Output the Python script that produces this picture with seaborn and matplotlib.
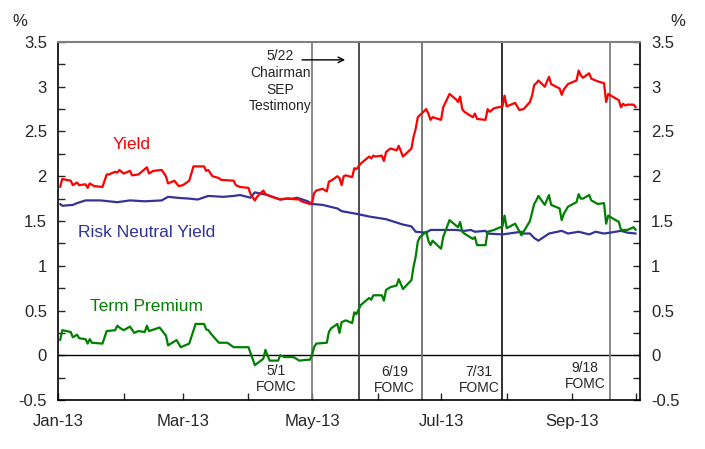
import pandas as pd
import numpy as np
import matplotlib
matplotlib.use('Agg')
import matplotlib.pyplot as plt
import matplotlib.dates as mdates
from matplotlib.ticker import MultipleLocator, FuncFormatter
import seaborn as sns

sns.set_style('ticks')
plt.rcParams['font.family'] = ['Liberation Sans', 'DejaVu Sans']

# 10-year yield decomposition, 2013
yield_dates = ['2013-01-02', '2013-01-03', '2013-01-07', '2013-01-08', '2013-01-10', '2013-01-11',
               '2013-01-14', '2013-01-15', '2013-01-16', '2013-01-18', '2013-01-22', '2013-01-24',
               '2013-01-25', '2013-01-28', '2013-01-29', '2013-01-30', '2013-02-01', '2013-02-04',
               '2013-02-05', '2013-02-08', '2013-02-12', '2013-02-13', '2013-02-15', '2013-02-19',
               '2013-02-21', '2013-02-22', '2013-02-25', '2013-02-27', '2013-03-01', '2013-03-04',
               '2013-03-06', '2013-03-11', '2013-03-12', '2013-03-13', '2013-03-15', '2013-03-18',
               '2013-03-19', '2013-03-25', '2013-03-26', '2013-03-28', '2013-04-01', '2013-04-02',
               '2013-04-04', '2013-04-05', '2013-04-08', '2013-04-09', '2013-04-12', '2013-04-16',
               '2013-04-19', '2013-04-25', '2013-04-26', '2013-04-30', '2013-05-01', '2013-05-02',
               '2013-05-03', '2013-05-06', '2013-05-08', '2013-05-09', '2013-05-10', '2013-05-13',
               '2013-05-14', '2013-05-15', '2013-05-16', '2013-05-17', '2013-05-20', '2013-05-21',
               '2013-05-22', '2013-05-24', '2013-05-28', '2013-05-29', '2013-05-30', '2013-05-31',
               '2013-06-03', '2013-06-04', '2013-06-05', '2013-06-07', '2013-06-10', '2013-06-11',
               '2013-06-13', '2013-06-17', '2013-06-18', '2013-06-19', '2013-06-20', '2013-06-24',
               '2013-06-25', '2013-06-26', '2013-06-27', '2013-07-01', '2013-07-02', '2013-07-05',
               '2013-07-08', '2013-07-09', '2013-07-10', '2013-07-11', '2013-07-12', '2013-07-16',
               '2013-07-17', '2013-07-18', '2013-07-22', '2013-07-23', '2013-07-24', '2013-07-26',
               '2013-07-30', '2013-07-31', '2013-08-01', '2013-08-05', '2013-08-07', '2013-08-09',
               '2013-08-12', '2013-08-13', '2013-08-14', '2013-08-15', '2013-08-16', '2013-08-19',
               '2013-08-21', '2013-08-22', '2013-08-26', '2013-08-27', '2013-08-28', '2013-08-30',
               '2013-09-03', '2013-09-04', '2013-09-05', '2013-09-06', '2013-09-09', '2013-09-10',
               '2013-09-13', '2013-09-16', '2013-09-17', '2013-09-18', '2013-09-20', '2013-09-23',
               '2013-09-24', '2013-09-25', '2013-09-26', '2013-09-27', '2013-09-30', '2013-10-01']
yield_vals = [1.88, 1.97, 1.95, 1.90, 1.93, 1.90,
              1.91, 1.87, 1.92, 1.89, 1.88, 2.02,
              2.02, 2.05, 2.04, 2.07, 2.03, 2.06,
              2.01, 2.02, 2.10, 2.03, 2.06, 2.07,
              2.00, 1.92, 1.95, 1.89, 1.90, 1.95,
              2.11, 2.11, 2.06, 2.07, 2.00, 1.98,
              1.96, 1.95, 1.90, 1.88, 1.87, 1.80,
              1.73, 1.77, 1.84, 1.80, 1.77, 1.74,
              1.75, 1.74, 1.72, 1.69, 1.70, 1.81,
              1.84, 1.86, 1.83, 1.94, 1.95, 2.00,
              1.98, 1.90, 2.00, 2.01, 1.99, 2.09,
              2.08, 2.14, 2.22, 2.20, 2.23, 2.22,
              2.23, 2.17, 2.27, 2.31, 2.29, 2.34,
              2.22, 2.31, 2.44, 2.53, 2.66, 2.75,
              2.70, 2.63, 2.66, 2.63, 2.77, 2.92,
              2.86, 2.83, 2.89, 2.75, 2.72, 2.66,
              2.70, 2.64, 2.63, 2.75, 2.72, 2.76,
              2.78, 2.90, 2.78, 2.82, 2.74, 2.75,
              2.83, 2.90, 3.02, 3.04, 3.07, 3.00,
              3.11, 3.03, 2.98, 2.91, 2.97, 3.03,
              3.07, 3.18, 3.13, 3.10, 3.15, 3.09,
              3.06, 3.04, 2.83, 2.92, 2.89, 2.85,
              2.77, 2.81, 2.79, 2.80, 2.80, 2.77]

rny_dates = ['2013-01-02', '2013-01-03', '2013-01-08', '2013-01-10', '2013-01-14', '2013-01-21',
             '2013-01-29', '2013-02-04', '2013-02-11', '2013-02-19', '2013-02-22', '2013-02-26',
             '2013-03-04', '2013-03-08', '2013-03-13', '2013-03-20', '2013-03-25', '2013-03-28',
             '2013-04-02', '2013-04-04', '2013-04-08', '2013-04-10', '2013-04-16', '2013-04-19',
             '2013-04-22', '2013-04-24', '2013-04-29', '2013-05-01', '2013-05-06', '2013-05-13',
             '2013-05-15', '2013-05-22', '2013-05-28', '2013-06-05', '2013-06-13', '2013-06-17',
             '2013-06-19', '2013-06-24', '2013-06-26', '2013-07-08', '2013-07-12', '2013-07-15',
             '2013-07-17', '2013-07-22', '2013-07-23', '2013-07-30', '2013-08-02', '2013-08-08',
             '2013-08-09', '2013-08-12', '2013-08-14', '2013-08-16', '2013-08-21', '2013-08-27',
             '2013-08-30', '2013-09-04', '2013-09-09', '2013-09-12', '2013-09-16', '2013-09-19',
             '2013-09-24', '2013-09-27', '2013-10-01']
rny_vals = [1.69, 1.67, 1.68, 1.70, 1.73, 1.73,
            1.71, 1.73, 1.72, 1.73, 1.77, 1.76,
            1.75, 1.74, 1.78, 1.77, 1.78, 1.79,
            1.76, 1.82, 1.80, 1.79, 1.74, 1.75,
            1.75, 1.76, 1.72, 1.69, 1.68, 1.64,
            1.61, 1.58, 1.55, 1.52, 1.46, 1.44,
            1.38, 1.37, 1.40, 1.40, 1.39, 1.40,
            1.38, 1.39, 1.36, 1.35, 1.36, 1.38,
            1.36, 1.36, 1.31, 1.28, 1.36, 1.39,
            1.36, 1.38, 1.35, 1.38, 1.36, 1.37,
            1.39, 1.37, 1.36]

tp_dates = ['2013-01-02', '2013-01-03', '2013-01-07', '2013-01-08', '2013-01-10', '2013-01-11',
            '2013-01-14', '2013-01-15', '2013-01-16', '2013-01-17', '2013-01-22', '2013-01-24',
            '2013-01-28', '2013-01-29', '2013-01-30', '2013-02-01', '2013-02-04', '2013-02-06',
            '2013-02-08', '2013-02-11', '2013-02-12', '2013-02-13', '2013-02-18', '2013-02-21',
            '2013-02-22', '2013-02-26', '2013-02-28', '2013-03-04', '2013-03-07', '2013-03-11',
            '2013-03-12', '2013-03-13', '2013-03-15', '2013-03-18', '2013-03-22', '2013-03-25',
            '2013-04-01', '2013-04-04', '2013-04-08', '2013-04-09', '2013-04-11', '2013-04-15',
            '2013-04-16', '2013-04-18', '2013-04-22', '2013-04-23', '2013-04-25', '2013-04-29',
            '2013-04-30', '2013-05-01', '2013-05-02', '2013-05-03', '2013-05-08', '2013-05-09',
            '2013-05-10', '2013-05-13', '2013-05-14', '2013-05-15', '2013-05-17', '2013-05-20',
            '2013-05-21', '2013-05-22', '2013-05-24', '2013-05-28', '2013-05-29', '2013-05-30',
            '2013-06-03', '2013-06-04', '2013-06-05', '2013-06-07', '2013-06-10', '2013-06-11',
            '2013-06-13', '2013-06-17', '2013-06-18', '2013-06-19', '2013-06-20', '2013-06-21',
            '2013-06-24', '2013-06-25', '2013-06-26', '2013-06-27', '2013-07-01', '2013-07-02',
            '2013-07-05', '2013-07-08', '2013-07-09', '2013-07-10', '2013-07-11', '2013-07-12',
            '2013-07-16', '2013-07-17', '2013-07-18', '2013-07-22', '2013-07-23', '2013-07-26',
            '2013-07-30', '2013-07-31', '2013-08-01', '2013-08-05', '2013-08-08', '2013-08-09',
            '2013-08-12', '2013-08-14', '2013-08-15', '2013-08-16', '2013-08-19', '2013-08-21',
            '2013-08-22', '2013-08-26', '2013-08-27', '2013-08-28', '2013-08-30', '2013-09-03',
            '2013-09-04', '2013-09-05', '2013-09-06', '2013-09-09', '2013-09-10', '2013-09-13',
            '2013-09-16', '2013-09-17', '2013-09-18', '2013-09-20', '2013-09-23', '2013-09-24',
            '2013-09-27', '2013-09-30', '2013-10-01']
tp_vals = [0.17, 0.28, 0.26, 0.20, 0.23, 0.19,
           0.18, 0.13, 0.18, 0.14, 0.13, 0.27,
           0.28, 0.33, 0.31, 0.28, 0.32, 0.25,
           0.27, 0.26, 0.33, 0.27, 0.31, 0.22,
           0.11, 0.17, 0.09, 0.13, 0.35, 0.35,
           0.29, 0.28, 0.22, 0.14, 0.14, 0.09,
           0.09, -0.11, -0.04, 0.06, -0.06, -0.06,
           0.00, -0.02, -0.02, -0.03, -0.06, -0.05,
           -0.05, 0.00, 0.09, 0.13, 0.14, 0.26,
           0.30, 0.35, 0.25, 0.37, 0.39, 0.36,
           0.48, 0.46, 0.56, 0.64, 0.62, 0.67,
           0.67, 0.61, 0.73, 0.76, 0.78, 0.85,
           0.74, 0.84, 0.99, 1.10, 1.27, 1.32,
           1.38, 1.28, 1.23, 1.28, 1.19, 1.32,
           1.51, 1.45, 1.43, 1.49, 1.38, 1.36,
           1.30, 1.32, 1.23, 1.23, 1.38, 1.40,
           1.44, 1.56, 1.42, 1.47, 1.34, 1.38,
           1.50, 1.69, 1.73, 1.78, 1.68, 1.79,
           1.68, 1.64, 1.51, 1.58, 1.66, 1.71,
           1.80, 1.75, 1.75, 1.79, 1.73, 1.69,
           1.70, 1.47, 1.56, 1.53, 1.49, 1.40,
           1.40, 1.43, 1.40]

# event lines (placed where they sit in the picture)
event_dates = ['2013-05-01', '2013-05-23', '2013-06-22', '2013-07-30', '2013-09-19']
event_colors = ['#808080', '#404040', '#707070', '#202020', '#808080']
fomc_labels = ['5/1\nFOMC', '6/19\nFOMC', '7/31\nFOMC', '9/18\nFOMC']
fomc_label_dates = ['2013-04-14', '2013-06-09', '2013-07-19', '2013-09-07']
fomc_label_y = [-0.10, -0.11, -0.11, -0.06]

fig = plt.figure(figsize=(7.05, 4.49), dpi=100)
ax = fig.add_axes([0.0823, 0.1091, 0.8255, 0.7974])

ax.axhline(0, color='black', lw=1.0, zorder=1)
for d, c in zip(event_dates, event_colors):
    ax.axvline(pd.Timestamp(d), color=c, lw=1.3, zorder=1)

sns.lineplot(x=pd.to_datetime(yield_dates), y=yield_vals, ax=ax, color='#FF0000', lw=1.6, zorder=3)
sns.lineplot(x=pd.to_datetime(rny_dates), y=rny_vals, ax=ax, color='#333399', lw=1.6, zorder=2)
sns.lineplot(x=pd.to_datetime(tp_dates), y=tp_vals, ax=ax, color='#008000', lw=1.6, zorder=3)

ax.set_xlim(pd.Timestamp('2013-01-01'), pd.Timestamp('2013-10-03'))
ax.set_ylim(-0.5, 3.5)

ax.xaxis.set_major_locator(mdates.MonthLocator(bymonth=[1, 3, 5, 7, 9]))
ax.xaxis.set_minor_locator(mdates.MonthLocator(bymonth=[2, 4, 6, 8, 10]))
ax.xaxis.set_major_formatter(mdates.DateFormatter('%b-%y'))
ax.yaxis.set_major_locator(MultipleLocator(0.5))
ax.yaxis.set_minor_locator(MultipleLocator(0.25))
ax.yaxis.set_major_formatter(FuncFormatter(lambda v, p: f'{v:g}'))

ax.tick_params(axis='y', which='both', direction='in', left=True, right=True,
               labelleft=True, labelright=True, labelsize=12, length=5, width=1, pad=8)
ax.tick_params(axis='x', which='both', direction='in', bottom=True, labelsize=12,
               length=5, width=1, pad=10)
ax.set_xlabel('')
ax.set_ylabel('')

for side in ['left', 'bottom', 'right']:
    ax.spines[side].set_color('black')
    ax.spines[side].set_linewidth(1.2)
ax.spines['top'].set_color('#808080')
ax.spines['top'].set_linewidth(1.5)

# series labels
ax.text(pd.Timestamp('2013-02-05'), 2.35, 'Yield', color='#FF0000', fontsize=12.5, ha='center', va='center')
ax.text(pd.Timestamp('2013-02-12'), 1.37, 'Risk Neutral Yield', color='#333399', fontsize=12.5,
        ha='center', va='center')
ax.text(pd.Timestamp('2013-02-12'), 0.54, 'Term Premium', color='#008000', fontsize=12.5,
        ha='center', va='center')

# event annotations
ax.text(pd.Timestamp('2013-04-16'), 3.42, '5/22\nChairman\nSEP\nTestimony', fontsize=10,
        ha='center', va='top', linespacing=1.25)
ax.annotate('', xy=(pd.Timestamp('2013-05-18'), 3.30), xytext=(pd.Timestamp('2013-04-25'), 3.30),
            arrowprops=dict(arrowstyle='->', color='black', lw=1))
for lab, d, y in zip(fomc_labels, fomc_label_dates, fomc_label_y):
    ax.text(pd.Timestamp(d), y, lab, fontsize=10, ha='center', va='top', linespacing=1.2)

fig.text(20 / 705, 1 - 21 / 449, '%', fontsize=12, ha='center', va='center')
fig.text(678 / 705, 1 - 21 / 449, '%', fontsize=12, ha='center', va='center')

fig.savefig('out.png', dpi=100)
